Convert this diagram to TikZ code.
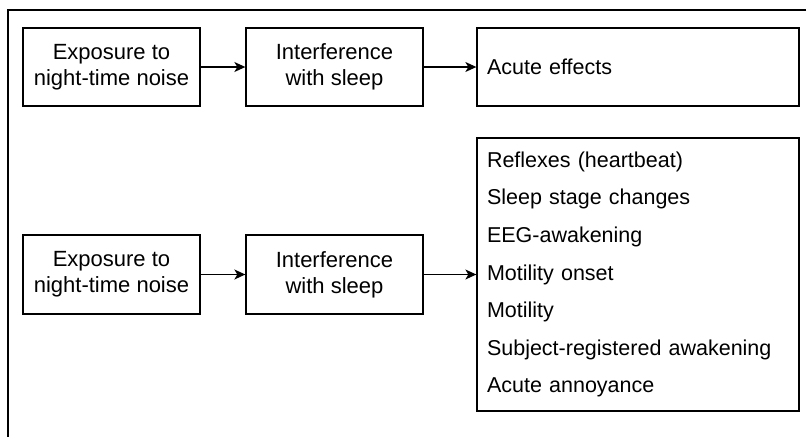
\documentclass[tikz,border=0pt]{standalone}
\usepackage{fontspec}
\setmainfont{Liberation Sans}
\usetikzlibrary{arrows.meta}
\begin{document}
\begin{tikzpicture}[x=1pt,y=-1pt,
  every node/.style={font=\fontsize{21.5}{26}\selectfont},
  box/.style={draw, line width=1.3pt, rectangle, inner sep=0pt, align=center,
    font=\fontsize{22}{26}\selectfont},
  listbox/.style={draw, line width=1.3pt, rectangle, inner xsep=10pt, inner ysep=0pt,
    align=left, text width=302pt},
  link/.style={line width=1.3pt, -{Stealth[length=11pt,width=10pt,inset=3pt]}}]
\useasboundingbox (0,0) rectangle (808,437);
% partial frame: top and left edges only
\draw[line width=2pt] (806,10) -- (8,10) -- (8,437);

% upper chain
\node[box, minimum width=177pt, minimum height=78pt] (expA) at (111.5,67)
  {Exposure to\\night-time noise};
\node[box, minimum width=177pt, minimum height=78pt] (intA) at (334.5,67)
  {Interference\\with sleep};
\node[listbox, minimum width=322pt, minimum height=78pt] (effA) at (638,67)
  {Acute effects};

% lower chain
\node[box, minimum width=177pt, minimum height=79pt] (expB) at (111.5,274.5)
  {Exposure to\\night-time noise};
\node[box, minimum width=177pt, minimum height=79pt] (intB) at (334.5,274.5)
  {Interference\\with sleep};
\node[listbox, minimum width=322pt, minimum height=273pt,
  font=\fontsize{21.5}{37.6}\selectfont] (effB) at (638,274.5)
  {Reflexes (heartbeat)\\
   Sleep stage changes\\
   EEG-awakening\\
   Motility onset\\
   Motility\\
   Subject-registered awakening\\
   Acute annoyance};

\draw[link] (expA) -- (intA);
\draw[link] (intA) -- (effA);
\draw[link] (expB) -- (intB);
\draw[link] (intB) -- (effB);
\end{tikzpicture}
\end{document}
